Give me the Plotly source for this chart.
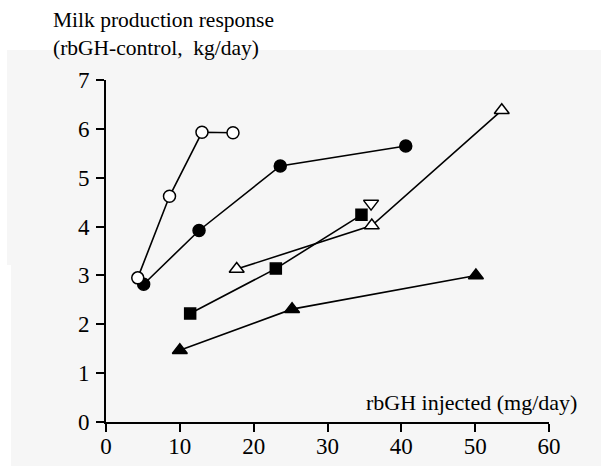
import plotly.graph_objects as go

# Data (rbGH injected mg/day, milk response kg/day)
open_circle_x = [4.3, 8.6, 13.0, 17.2]
open_circle_y = [2.95, 4.62, 5.93, 5.92]

filled_circle_x = [5.1, 12.6, 23.6, 40.6]
filled_circle_y = [2.82, 3.92, 5.24, 5.65]

open_tri_up_x = [17.7, 36.0, 53.6]
open_tri_up_y = [3.13, 4.02, 6.38]

open_tri_down_x = [35.9]
open_tri_down_y = [4.47]

filled_square_x = [11.4, 23.0, 34.6]
filled_square_y = [2.22, 3.14, 4.24]

filled_tri_x = [10.0, 25.2, 50.1]
filled_tri_y = [1.47, 2.31, 3.0]

x_ticks = [0, 10, 20, 30, 40, 50, 60]
y_ticks = [0, 1, 2, 3, 4, 5, 6, 7]

FONT = "Liberation Serif"
fig = go.Figure()

def add(x, y, symbol, fill, size, mode="lines+markers"):
    fig.add_trace(go.Scatter(
        x=x, y=y, mode=mode,
        line=dict(color="black", width=1.6),
        marker=dict(symbol=symbol, size=size, color=fill,
                    line=dict(color="black", width=1.5)),
        showlegend=False, cliponaxis=False))

add(filled_square_x, filled_square_y, "square", "black", 11)
add(open_tri_up_x, open_tri_up_y, "triangle-up", "white", 13)
add(filled_tri_x, filled_tri_y, "triangle-up", "black", 13)
add(filled_circle_x, filled_circle_y, "circle", "black", 12)
add(open_circle_x, open_circle_y, "circle", "white", 12)
add(open_tri_down_x, open_tri_down_y, "triangle-down", "white", 13, mode="markers")

# paper coordinate helpers (plot area: x 106..549 px, y 80..422 px)
def px(v):
    return (v - 106) / 443.0

def py(v):
    return (422 - v) / 342.0

shapes = [
    dict(type="rect", xref="paper", yref="paper", layer="below",
         x0=px(7), x1=px(605), y0=py(50), y1=py(470),
         fillcolor="#f6f6f6", line=dict(width=0)),
    dict(type="rect", xref="paper", yref="paper", layer="below",
         x0=px(-5), x1=px(11), y0=py(265), y1=py(470),
         fillcolor="white", line=dict(width=0)),
]

annotations = [
    dict(xref="paper", yref="paper", x=px(51), y=py(34), xanchor="left",
         yanchor="middle", align="left", showarrow=False,
         text="Milk production response<br>(rbGH-control,  kg/day)",
         font=dict(family=FONT, size=21.5, color="black")),
    dict(xref="paper", yref="paper", x=px(579), y=py(402), xanchor="right",
         yanchor="middle", showarrow=False,
         text="rbGH injected (mg/day)",
         font=dict(family=FONT, size=22, color="black")),
]

fig.update_layout(
    width=601, height=466,
    margin=dict(l=106, r=52, t=80, b=44),
    paper_bgcolor="white", plot_bgcolor="rgba(0,0,0,0)",
    shapes=shapes, annotations=annotations,
    font=dict(family=FONT, size=23, color="black"),
)
fig.update_xaxes(range=[0, 60], tickvals=x_ticks, showgrid=False, zeroline=False,
                 showline=True, linecolor="black", linewidth=2, automargin=False,
                 ticks="outside", ticklen=8, tickwidth=2, tickcolor="black",
                 ticklabelstandoff=-6,
                 tickfont=dict(family=FONT, size=23))
fig.update_yaxes(range=[0, 7], tickvals=y_ticks, showgrid=False, zeroline=False,
                 showline=True, linecolor="black", linewidth=2, automargin=False,
                 ticks="outside", ticklen=8, tickwidth=2, tickcolor="black",
                 ticklabelstandoff=2,
                 tickfont=dict(family=FONT, size=23))

fig.write_html("out.html")
